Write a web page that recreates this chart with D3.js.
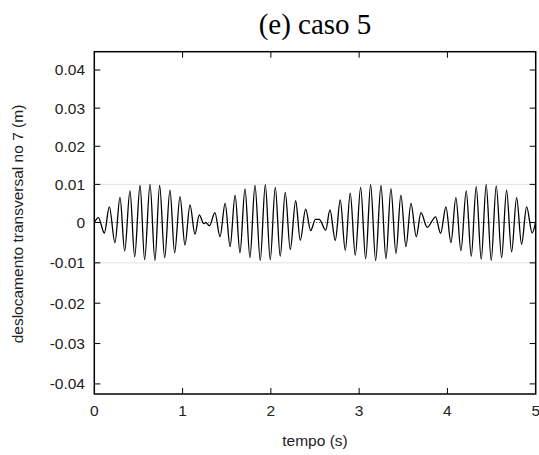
<!DOCTYPE html>
<html>
<head>
<meta charset="utf-8">
<script src="https://cdn.jsdelivr.net/npm/d3@7"></script>
<style>
  body { margin: 0; background: #fff; }
  svg { display: block; }
  .tick-label, .axis-title { font-family: "Liberation Sans", Arial, sans-serif; fill: #222; }
</style>
</head>
<body>
<svg id="chart" width="539" height="455"></svg>
<script>
// ---------------------------------------------------
// Chart data
// ---------------------------------------------------
const xTicks = [0, 1, 2, 3, 4, 5];
const yTicks = [-0.04, -0.03, -0.02, -0.01, 0, 0.01, 0.02, 0.03, 0.04];
const yTickLabels = ["-0.04", "-0.03", "-0.02", "-0.01", "0", "0.01", "0.02", "0.03", "0.04"];
const guideValues = [-0.01, 0.01];

// turning points of the displacement signal (time in s)
const peakTimes = [
  0.000, 0.046, 0.114, 0.170, 0.234, 0.291, 0.344, 0.404, 0.457, 0.518,
  0.570, 0.631, 0.687, 0.740, 0.797, 0.857, 0.910, 0.971, 1.027, 1.084,
  1.140, 1.189, 1.240, 1.262, 1.305, 1.366, 1.424, 1.482, 1.538, 1.595,
  1.650, 1.707, 1.763, 1.820, 1.880, 1.937, 1.993, 2.050, 2.106, 2.163,
  2.220, 2.281, 2.333, 2.394, 2.451, 2.505, 2.548, 2.621, 2.669, 2.730,
  2.786, 2.843, 2.899, 2.956, 3.017, 3.074, 3.130, 3.187, 3.247, 3.304,
  3.360, 3.417, 3.473, 3.530, 3.587, 3.647, 3.700, 3.771, 3.866, 3.923,
  3.983, 4.040, 4.096, 4.153, 4.213, 4.270, 4.326, 4.383, 4.439, 4.496,
  4.553, 4.614, 4.670, 4.727, 4.784, 4.840, 4.897, 4.960, 5.000
];
// displacement at those points (m)
const peakValues = [
   0.0000,  0.0013, -0.0026,  0.0041, -0.0050,  0.0066, -0.0071,  0.0083, -0.0085,  0.0097,
  -0.0092,  0.0100, -0.0094,  0.0097, -0.0087,  0.0085, -0.0075,  0.0068, -0.0056,  0.0046,
  -0.0029,  0.0020, -0.0003,  0.0000, -0.0008,  0.0026, -0.0035,  0.0050, -0.0060,  0.0072,
  -0.0075,  0.0088, -0.0087,  0.0097, -0.0094,  0.0099, -0.0092,  0.0092, -0.0084,  0.0079,
  -0.0067,  0.0057, -0.0044,  0.0035, -0.0020,  0.0008,  0.0008, -0.0019,  0.0033, -0.0044,
   0.0059, -0.0069,  0.0077, -0.0081,  0.0092, -0.0090,  0.0099, -0.0094,  0.0097, -0.0090,
   0.0089, -0.0077,  0.0072, -0.0060,  0.0050, -0.0035,  0.0026, -0.0012,  0.0015, -0.0027,
   0.0041, -0.0050,  0.0065, -0.0070,  0.0083, -0.0084,  0.0094, -0.0091,  0.0099, -0.0094,
   0.0096, -0.0087,  0.0085, -0.0073,  0.0065, -0.0054,  0.0041, -0.0026,  0.0003
];

// ---------------------------------------------------
// Layout
// ---------------------------------------------------
const svg = d3.select("#chart");
const plot = { left: 94.3, right: 535.7, top: 51.7, bottom: 394 };
const tickLen = 6;

const x = d3.scaleLinear().domain([0, 5]).range([plot.left, plot.right]);
// the picture is slightly stretched below zero, so a 3-stop scale
const y = d3.scaleLinear().domain([-0.0425, 0, 0.0448]).range([plot.bottom, 222.5, plot.top]);

const series = peakTimes.map((t, i) => ({ t: t, v: peakValues[i] }));

// clip
svg.append("clipPath").attr("id", "clip")
  .append("rect")
  .attr("x", plot.left).attr("y", plot.top)
  .attr("width", plot.right - plot.left).attr("height", plot.bottom - plot.top);

// light guides at +-0.01
svg.append("g").selectAll("line")
  .data(guideValues)
  .join("line")
  .attr("x1", plot.left).attr("x2", plot.right)
  .attr("y1", d => y(d)).attr("y2", d => y(d))
  .attr("stroke", "#e2e2e2").attr("stroke-width", 1);

// zero line, dotted
svg.append("line")
  .attr("x1", plot.left).attr("x2", plot.right)
  .attr("y1", y(0)).attr("y2", y(0))
  .attr("stroke", "#333").attr("stroke-width", 1)
  .attr("stroke-dasharray", "1,2");

// signal
const line = d3.line()
  .x(d => x(d.t))
  .y(d => y(d.v))
  .curve(d3.curveMonotoneX);

svg.append("path")
  .datum(series)
  .attr("clip-path", "url(#clip)")
  .attr("d", line)
  .attr("fill", "none")
  .attr("stroke", "#000")
  .attr("stroke-width", 1.3);

// frame
svg.append("rect")
  .attr("x", plot.left).attr("y", plot.top)
  .attr("width", plot.right - plot.left).attr("height", plot.bottom - plot.top)
  .attr("fill", "none").attr("stroke", "#000").attr("stroke-width", 1.5);

// ticks, mirrored on both sides (inward)
const ticks = svg.append("g").attr("stroke", "#000").attr("stroke-width", 1);
ticks.selectAll(".xb").data(xTicks.slice(1, -1)).join("line")
  .attr("x1", d => x(d)).attr("x2", d => x(d))
  .attr("y1", plot.bottom).attr("y2", plot.bottom - tickLen);
ticks.selectAll(".xt").data(xTicks.slice(1, -1)).join("line")
  .attr("x1", d => x(d)).attr("x2", d => x(d))
  .attr("y1", plot.top).attr("y2", plot.top + tickLen);
ticks.selectAll(".yl").data(yTicks).join("line")
  .attr("x1", plot.left).attr("x2", plot.left + tickLen)
  .attr("y1", d => y(d)).attr("y2", d => y(d));
ticks.selectAll(".yr").data(yTicks).join("line")
  .attr("x1", plot.right).attr("x2", plot.right - tickLen)
  .attr("y1", d => y(d)).attr("y2", d => y(d));

// tick labels
svg.append("g").selectAll("text")
  .data(xTicks)
  .join("text")
  .attr("class", "tick-label")
  .attr("x", d => x(d))
  .attr("y", 416)
  .attr("text-anchor", "middle")
  .style("font-size", "15.5px")
  .text(d => d);

svg.append("g").selectAll("text")
  .data(yTicks)
  .join("text")
  .attr("class", "tick-label")
  .attr("x", 85)
  .attr("y", d => y(d))
  .attr("dy", "0.35em")
  .attr("text-anchor", "end")
  .style("font-size", "15.5px")
  .text((d, i) => yTickLabels[i]);

// axis titles
svg.append("text")
  .attr("class", "axis-title")
  .attr("x", (plot.left + plot.right) / 2)
  .attr("y", 446)
  .attr("text-anchor", "middle")
  .style("font-size", "15.5px")
  .text("tempo (s)");

svg.append("text")
  .attr("class", "axis-title")
  .attr("transform", "translate(23,224) rotate(-90)")
  .attr("text-anchor", "middle")
  .style("font-size", "15.5px")
  .text("deslocamento transversal no 7 (m)");

// title
svg.append("text")
  .attr("x", (plot.left + plot.right) / 2)
  .attr("y", 34)
  .attr("text-anchor", "middle")
  .style("font-family", "'Liberation Serif', 'Times New Roman', serif")
  .style("font-size", "29px")
  .style("fill", "#000")
  .text("(e) caso 5");
</script>
</body>
</html>
